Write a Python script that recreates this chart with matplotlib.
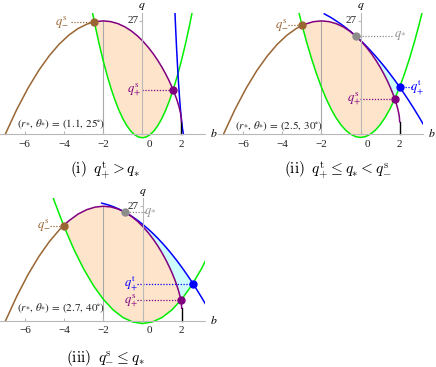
import matplotlib.pyplot as plt

W, H = 436, 367

# critical curve (b, q), sampled from r = 4 down to r = 1
crit_b = [-7.0, -6.41, -5.84, -5.29, -4.76, -4.25, -3.76, -3.29, -2.84, -2.41, -2.0,
          -1.61, -1.24, -0.89, -0.56, -0.25, 0.04, 0.31, 0.56, 0.79, 1.0,
          1.19, 1.36, 1.51, 1.64, 1.75, 1.84, 1.91, 1.96, 1.99, 2.0]
crit_q = [0.0, 5.93, 10.97, 15.20, 18.66, 21.44, 23.58, 25.16, 26.21, 26.81, 27.0,
          26.83, 26.34, 25.59, 24.61, 23.44, 22.12, 20.68, 19.17, 17.60, 16.0,
          14.40, 12.83, 11.30, 9.83, 8.44, 7.13, 5.93, 4.84, 3.86, 3.0]

# panel (i): (r*, theta*) = (1.1, 25 deg)
green1_b = [-2.6, -2.4, -2.2, -2.0, -1.8, -1.6, -1.4, -1.2, -1.0, -0.8, -0.6, -0.4, -0.2, 0.0,
            0.2, 0.4, 0.6, 0.8, 1.0, 1.2, 1.4, 1.6, 1.8, 2.0, 2.2, 2.4, 2.6]
green1_q = [30.27, 25.67, 21.44, 17.58, 14.08, 10.95, 8.19, 5.80, 3.78, 2.12, 0.83, -0.09, -0.64, -0.82,
            -0.64, -0.09, 0.83, 2.12, 3.78, 5.80, 8.19, 10.95, 14.08, 17.58, 21.44, 25.67, 30.27]
blue1_b = [1.66, 1.70, 1.75, 1.80, 1.85, 1.90, 1.95, 2.00, 2.05, 2.10]
blue1_q = [29.81, 25.52, 20.60, 16.17, 12.24, 8.80, 5.86, 3.41, 1.46, 0.0]

# panel (ii): (r*, theta*) = (2.5, 30 deg)
green2_b = [-3.25, -3.0, -2.75, -2.5, -2.25, -2.0, -1.75, -1.5, -1.25, -1.0, -0.75, -0.5, -0.25, 0.0,
            0.25, 0.5, 0.75, 1.0, 1.25, 1.5, 1.75, 2.0, 2.25, 2.5, 2.75, 3.0, 3.25]
green2_q = [30.94, 26.25, 21.94, 18.0, 14.44, 11.25, 8.44, 6.0, 3.94, 2.25, 0.94, 0.0, -0.56, -0.75,
            -0.56, 0.0, 0.94, 2.25, 3.94, 6.0, 8.44, 11.25, 14.44, 18.0, 21.94, 26.25, 30.94]
blue2_b = [-1.85, -1.5, -1.0, -0.75, -0.5, -0.25, 0.0, 0.25, 0.5, 0.75, 1.0, 1.25, 1.5, 1.75,
           2.0, 2.25, 2.5, 2.75, 3.0, 3.2]
blue2_q = [28.68, 27.78, 26.25, 25.38, 24.44, 23.44, 22.36, 21.22, 20.0, 18.72, 17.36, 15.94, 14.44, 12.88,
           11.25, 9.55, 7.78, 5.94, 4.03, 2.45]

# panel (iii): (r*, theta*) = (2.7, 40 deg)
green3_b = [-5.0, -4.5, -4.0, -3.5, -3.0, -2.5, -2.0, -1.5, -1.0, -0.5, 0.0,
            0.5, 1.0, 1.5, 2.0, 2.5, 3.0, 3.5]
green3_q = [34.92, 28.17, 22.14, 16.81, 12.20, 8.29, 5.09, 2.61, 0.83, -0.23, -0.59,
            -0.23, 0.83, 2.61, 5.09, 8.29, 12.20, 16.81]
blue3_b = [-2.08, -1.75, -1.5, -1.25, -1.0, -0.75, -0.5, -0.25, 0.0, 0.25, 0.5, 0.75, 1.0,
           1.25, 1.5, 1.75, 2.0, 2.25, 2.5, 2.75, 3.0, 3.2]
blue3_q = [27.73, 27.32, 26.91, 26.43, 25.86, 25.21, 24.48, 23.67, 22.78, 21.81, 20.75, 19.61, 18.39,
           17.09, 15.70, 14.24, 12.69, 11.06, 9.35, 7.56, 5.68, 4.12]

# marked points (b, q)
qs_minus = [(-2.45, 26.78), (-2.98, 25.93), (-4.03, 22.47)]
qs_plus = [(1.575, 10.59), (1.75, 8.44), (1.959, 4.87)]
q_star = [None, (-0.25, 23.44), (-0.89, 25.59)]
qt_plus = [None, (2.0, 11.25), (2.574, 8.82)]
params = ['(1.1,\\,25^{\\circ})', '(2.5,\\,30^{\\circ})', '(2.7,\\,40^{\\circ})']
captions = [r'$\mathrm{(i)}\;\; q_{+}^{\mathrm{t}} > q_{*}$',
            r'$\mathrm{(ii)}\;\; q_{+}^{\mathrm{t}} \leq q_{*} < q_{-}^{\mathrm{s}}$',
            r'$\mathrm{(iii)}\;\; q_{-}^{\mathrm{s}} \leq q_{*}$']

BROWN, PURPLE, GREEN, BLUE = '#996633', '#800080', '#00ee00', '#0000ff'
GRAY, AXIS = '#8c8c8c', '#b8b8b8'
PEACH, CYAN = '#fee4cb', '#cdfcfc'

XLIM = (-7.27, 3.2)
YLIM = (-1.0, 28.9)
PXB = 19.58


def between(bs, qs, lo, hi):
    return [(b, q) for b, q in zip(bs, qs) if lo < b < hi]


def make_axes(fig, b0_px, q0_px, pxq):
    left = b0_px + XLIM[0] * PXB
    width = (XLIM[1] - XLIM[0]) * PXB
    top = q0_px - YLIM[1] * pxq
    height = (YLIM[1] - YLIM[0]) * pxq
    return fig.add_axes([left / W, 1 - (top + height) / H, width / W, height / H])


def panel(ax, gb, gq, bb, bq, i):
    ax.set_xlim(*XLIM)
    ax.set_ylim(*YLIM)
    ax.patch.set_alpha(0)
    for s in ['top', 'right']:
        ax.spines[s].set_visible(False)
    ax.spines['bottom'].set_position(('data', 0))
    ax.spines['left'].set_position(('data', 0))
    ax.spines['left'].set_bounds(0, YLIM[1])
    for s in ['bottom', 'left']:
        ax.spines[s].set_color(AXIS)
        ax.spines[s].set_linewidth(0.8)
    ax.set_xticks([-6, -4, -2, 0, 2], [''] * 5)
    ax.set_yticks([27], [''])
    ax.tick_params(axis='x', direction='in', length=2.5, color=AXIS, width=0.8)
    ax.tick_params(axis='y', direction='out', length=2.5, color=AXIS, width=0.8)
    tfont = dict(family='Liberation Serif', fontsize=8, color='#222222')
    for t, s in zip([-6, -4, -2, 0, 2], ['\u22126', '\u22124', '\u22122', '0', '2']):
        dx = 5 if t == 0 else 0
        ax.annotate(s, xy=(t, 0), xytext=(dx, -7), textcoords='offset points',
                    ha='center', va='center', **tfont)
    ax.annotate('27', xy=(0, 27), xytext=(-2.5, 0), textcoords='offset points',
                ha='right', va='center', **tfont)
    ax.annotate('$q$', xy=(0, 1), xycoords=('data', 'axes fraction'), xytext=(0, 5),
                textcoords='offset points', ha='center', va='center', fontsize=8.5,
                math_fontfamily='stix')
    ax.annotate('$b$', xy=(1, 0), xycoords=('axes fraction', 'data'), xytext=(3.5, 0.5),
                textcoords='offset points', ha='left', va='center', fontsize=8.5,
                math_fontfamily='stix')

    # guide line at b = -2 up to the maximum
    ax.plot([-2, -2], [0, 27], color='#a8a8a8', lw=0.8, zorder=1.5)

    bl, ql = qs_minus[i]
    br, qr = qs_plus[i]
    # allowed region between the green parabola and the critical curve
    poly = [(bl, ql)] + between(crit_b, crit_q, bl, br) + [(br, qr)]
    poly += between(gb, gq, bl, br)[::-1]
    ax.fill([p[0] for p in poly], [p[1] for p in poly], color=PEACH, lw=0, zorder=1)

    if q_star[i] is not None:
        bs, qs = q_star[i]
        bt, qt = qt_plus[i]
        poly = [(bs, qs)] + between(bb, bq, bs, bt) + [(bt, qt)]
        poly += between(gb, gq, br, bt)[::-1] + [(br, qr)]
        poly += between(crit_b, crit_q, bs, br)[::-1]
        ax.fill([p[0] for p in poly], [p[1] for p in poly], color=CYAN, lw=0, zorder=1)

    ax.plot(gb, gq, color=GREEN, lw=1.1, zorder=2)
    ax.plot(bb, bq, color=BLUE, lw=1.1, zorder=2)
    left = [(b, q) for b, q in zip(crit_b, crit_q) if b < bl] + [(bl, ql)]
    right = [(bl, ql)] + [(b, q) for b, q in zip(crit_b, crit_q) if b > bl]
    ax.plot([p[0] for p in left], [p[1] for p in left], color=BROWN, lw=1.1, zorder=2.2)
    ax.plot([p[0] for p in right], [p[1] for p in right], color=PURPLE, lw=1.1, zorder=2.2)
    ax.plot([2, 2], [0, crit_q[-1]], color='black', lw=1.0, zorder=2.1)

    ax.text(-6.4, [2.4, 1.9, 3.1][i], r'$(r_{*},\,\theta_{*})\,=\,' + params[i] + '$',
            fontsize=8, math_fontfamily='stix', ha='left', va='center', color='#222222')
    return ax


def mark(ax, pt, lab_b, line_b, label, color):
    b, q = pt
    ax.plot([line_b, b], [q, q], color=color, lw=0.9, ls=(0, (1, 1.3)), zorder=2.5)
    ax.plot(b, q, 'o', color=color, ms=5, zorder=3)
    ax.text(lab_b, q, label, color=color, fontsize=9, math_fontfamily='stix',
            ha='center', va='center', zorder=3)


fig = plt.figure(figsize=(W / 100, H / 100), dpi=100)

ax1 = panel(make_axes(fig, 142.3, 134.3, 4.2), green1_b, green1_q, blue1_b, blue1_q, 0)
mark(ax1, qs_minus[0], -4.13, -3.64, r'$q_{-}^{\mathrm{s}}$', BROWN)
mark(ax1, qs_plus[0], -0.42, -0.03, r'$q_{+}^{\mathrm{s}}$', PURPLE)

ax2 = panel(make_axes(fig, 360.5, 134.3, 4.2), green2_b, green2_q, blue2_b, blue2_q, 1)
mark(ax2, qs_minus[1], -4.01, -3.70, r'$q_{-}^{\mathrm{s}}$', BROWN)
mark(ax2, qs_plus[1], -0.33, -0.03, r'$q_{+}^{\mathrm{s}}$', PURPLE)
mark(ax2, q_star[1], 2.02, 1.59, r'$q_{*}$', GRAY)
mark(ax2, qt_plus[1], 2.89, 2.61, r'$q_{+}^{\mathrm{t}}$', BLUE)

ax3 = panel(make_axes(fig, 142.5, 321.0, 4.25), green3_b, green3_q, blue3_b, blue3_q, 2)
mark(ax3, qs_minus[2], -5.06, -4.72, r'$q_{-}^{\mathrm{s}}$', BROWN)
mark(ax3, qs_plus[2], -0.59, -0.28, r'$q_{+}^{\mathrm{s}}$', PURPLE)
mark(ax3, q_star[2], 0.40, 0.13, r'$q_{*}$', GRAY)
mark(ax3, qt_plus[2], -0.59, -0.28, r'$q_{+}^{\mathrm{t}}$', BLUE)

for (x, y), cap in zip([(105, 170), (338, 170), (105, 358)], captions):
    fig.text(x / W, 1 - y / H, cap, fontsize=11, math_fontfamily='cm', ha='center', va='center')

fig.savefig('out.png', dpi=100)
